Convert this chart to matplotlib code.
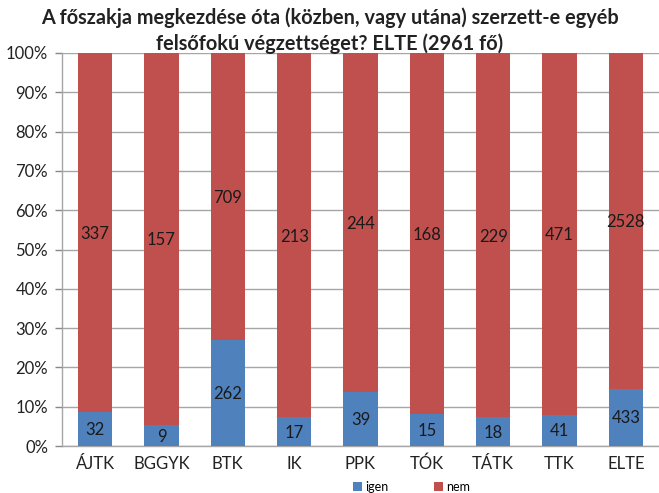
import matplotlib
matplotlib.use("Agg")
import matplotlib.pyplot as plt
import numpy as np

categories = ["ÁJTK", "BGGYK", "BTK", "IK", "PPK", "TÓK", "TÁTK", "TTK", "ELTE"]
igen = [32, 9, 262, 17, 39, 15, 18, 41, 433]
nem = [337, 157, 709, 213, 244, 168, 229, 471, 2528]
yticks = [0, 10, 20, 30, 40, 50, 60, 70, 80, 90, 100]
title_lines = ["A főszakja megkezdése óta (közben, vagy utána) szerzett-e egyéb",
               "felsőfokú végzettséget? ELTE (2961 fő)"]

plt.rcParams['font.family'] = ['Lato', 'DejaVu Sans']

igen_a = np.array(igen, float)
nem_a = np.array(nem, float)
tot = igen_a + nem_a
p_igen = igen_a / tot * 100
p_nem = nem_a / tot * 100

fig = plt.figure(figsize=(6.59, 4.93), dpi=100)
ax = fig.add_axes([0.094, 0.0953, 0.906, 0.7972])
x = np.arange(len(categories))
w = 0.52
blue = "#4F81BD"
red = "#C0504D"
ax.bar(x, p_igen, w, color=blue, label="igen", zorder=3)
ax.bar(x, p_nem, w, bottom=p_igen, color=red, label="nem", zorder=3)

for i in range(len(categories)):
    ax.text(x[i], p_igen[i] / 2 - 0.3, str(igen[i]), ha="center", va="center", fontsize=12, color="#1a1a1a", zorder=4)
    ax.text(x[i], p_igen[i] + p_nem[i] / 2 - 0.4, str(nem[i]), ha="center", va="center", fontsize=12, color="#1a1a1a", zorder=4)

ax.set_xlim(-0.5, len(categories) - 0.5)
ax.set_ylim(0, 100)
ax.set_yticks(yticks)
ax.set_yticklabels([f"{t}%" for t in yticks], fontsize=12, color="#222222")
ax.set_xticks(x)
ax.set_xticklabels(categories, fontsize=12, color="#222222")
ax.tick_params(axis="x", length=0, pad=7)
ax.tick_params(axis="y", length=5, color="#888888", width=1, pad=5)
ax.yaxis.grid(True, color="#A6A6A6", linewidth=1, zorder=0)
for s in ["top", "right"]:
    ax.spines[s].set_visible(False)
for s in ["left", "bottom"]:
    ax.spines[s].set_color("#A6A6A6")
    ax.spines[s].set_linewidth(1)

fig.text(0.5, 1 - 18 / 493, title_lines[0], ha="center", va="center", fontsize=14.3, fontweight="bold", color="#222222")
fig.text(0.5, 1 - 44 / 493, title_lines[1], ha="center", va="center", fontsize=14.3, fontweight="bold", color="#222222")

leg = fig.legend(loc="lower center", bbox_to_anchor=(0.625, -0.022), ncol=2, frameon=False,
                 fontsize=9, handlelength=0.7, handleheight=0.7, columnspacing=3.6, handletextpad=0.3)
fig.savefig("out.png", dpi=100)
